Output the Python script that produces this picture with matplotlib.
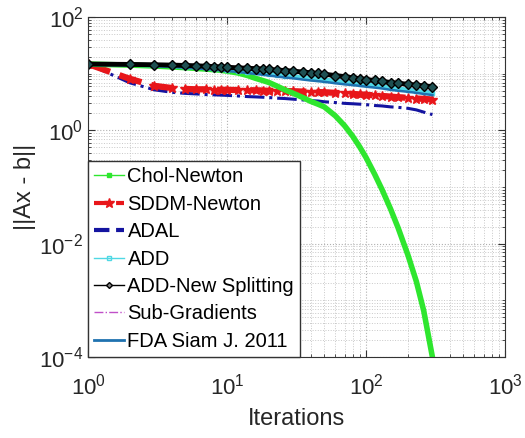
import matplotlib
matplotlib.use('Agg')
import matplotlib.pyplot as plt
from matplotlib.lines import Line2D
from matplotlib.ticker import LogLocator, NullFormatter

plt.rcParams['font.family'] = ['Liberation Sans', 'DejaVu Sans']
plt.rcParams['mathtext.default'] = 'regular'

iters = [1, 2, 3, 4, 5, 6, 7, 8, 9, 10, 12, 14, 16, 18, 20, 23, 26, 30, 35, 40,
         45, 50, 60, 70, 80, 90, 100, 115, 130, 150, 170, 200, 230, 260, 300]

chol_newton = [14.8, 14.2, 13.7, 13.2, 12.8, 12.4, 12.1, 11.8, 11.5, 11.1,
               10.3, 9.3, 8.3, 7.6, 7.0, 6.0, 5.2, 4.5, 3.8, 3.25,
               2.9, 2.6, 1.81, 1.21, 0.79, 0.51, 0.33, 0.17, 0.091, 0.041,
               0.019, 0.0063, 0.00215, 6.5e-4, 1.0e-4]
sddm_newton = [14.8, 8.1, 6.1, 5.6, 5.4, 5.3, 5.3, 5.25, 5.2, 5.2,
               5.15, 5.1, 5.1, 5.05, 5.0, 5.0, 4.95, 4.9, 4.85, 4.8,
               4.75, 4.7, 4.6, 4.5, 4.4, 4.3, 4.25, 4.15, 4.05, 3.95,
               3.85, 3.75, 3.65, 3.6, 3.5]
adal = [14.8, 6.9, 5.2, 4.7, 4.5, 4.4, 4.3, 4.25, 4.2, 4.15,
        4.05, 3.95, 3.9, 3.85, 3.8, 3.7, 3.65, 3.55, 3.45, 3.35,
        3.3, 3.2, 3.1, 3.0, 2.95, 2.9, 2.85, 2.75, 2.7, 2.6,
        2.55, 2.45, 2.3, 2.1, 1.9]
add = [14.8, 14.4, 14.0, 13.6, 13.2, 12.9, 12.6, 12.3, 12.0, 11.8,
       11.3, 10.9, 10.6, 10.3, 10.0, 9.6, 9.3, 9.0, 8.6, 8.3,
       8.1, 7.9, 7.5, 7.2, 6.9, 6.7, 6.5, 6.2, 6.0, 5.7,
       5.5, 5.2, 5.0, 4.8, 4.6]
add_new = [14.8, 14.6, 14.4, 14.2, 14.0, 13.8, 13.6, 13.4, 13.2, 13.0,
           12.7, 12.5, 12.3, 12.1, 11.9, 11.6, 11.4, 11.1, 10.7, 10.4,
           10.1, 9.8, 9.3, 8.9, 8.5, 8.2, 7.9, 7.6, 7.3, 7.0,
           6.8, 6.5, 6.3, 6.1, 5.9]
sub_grad = [14.8, 14.5, 14.1, 13.8, 13.5, 13.2, 12.9, 12.6, 12.4, 12.2,
            11.8, 11.4, 11.1, 10.8, 10.5, 10.1, 9.8, 9.5, 9.1, 8.8,
            8.5, 8.3, 7.9, 7.6, 7.3, 7.1, 6.9, 6.6, 6.3, 6.0,
            5.8, 5.5, 5.3, 5.1, 4.9]
fda = [14.8, 14.2, 13.7, 13.2, 12.8, 12.4, 12.1, 11.8, 11.5, 11.2,
       10.7, 10.3, 9.9, 9.6, 9.3, 8.9, 8.6, 8.3, 7.9, 7.6,
       7.4, 7.2, 6.8, 6.5, 6.3, 6.1, 5.9, 5.7, 5.5, 5.2,
       5.0, 4.8, 4.6, 4.4, 4.2]

labels = ['Chol-Newton', 'SDDM-Newton', 'ADAL', 'ADD', 'ADD-New Splitting',
          'Sub-Gradients', 'FDA Siam J. 2011']

c_green = '#2ee62e'
c_red = '#e8161a'
c_navy = '#1414a0'
c_cyan = '#4fd8e4'
c_mag = '#c050c8'
c_fda = '#1f72b0'

fig = plt.figure(figsize=(5.25, 4.38), dpi=100)
ax = fig.add_axes([0.168, 0.185, 0.794, 0.776])

ax.plot(iters, adal, '-.', color=c_navy, lw=2.2)
ax.plot(iters, sddm_newton, '--', color=c_red, lw=4.5, marker='*', ms=7)
ax.plot(iters, chol_newton, '-', color=c_green, lw=4)
ax.plot(iters, sub_grad, '-.', color=c_mag, lw=1.2)
ax.plot(iters, add, '-', color=c_cyan, lw=3, marker='s', ms=3.5)
ax.plot(iters, fda, '-', color=c_fda, lw=1.8)
ax.plot(iters, add_new, '-', color='black', lw=3.5, marker='D', ms=5.5,
        mfc='#1e5052', mec='black')

ax.set_xscale('log')
ax.set_yscale('log')
ax.set_xlim(1, 1000)
ax.set_ylim(1e-4, 1e2)
ax.set_yticks([1e-4, 1e-2, 1e0, 1e2])
ax.yaxis.set_minor_locator(LogLocator(base=10, subs=range(1, 10), numticks=100))
ax.yaxis.set_minor_formatter(NullFormatter())
ax.xaxis.set_minor_locator(LogLocator(base=10, subs=range(2, 10), numticks=100))
ax.xaxis.set_minor_formatter(NullFormatter())

ax.grid(True, which='major', ls=':', color='#b0b0b0', lw=0.8)
ax.grid(True, which='minor', ls=':', color='#c8c8c8', lw=0.7)
ax.tick_params(which='both', direction='in', top=True, right=True,
               labelsize=16, color='#333333', labelcolor='#262626')
ax.tick_params(axis='x', which='major', pad=12)
ax.tick_params(which='major', length=5)
ax.tick_params(which='minor', length=2.5)
for s in ax.spines.values():
    s.set_color('#333333')

ax.set_xlabel('Iterations', fontsize=17, color='#262626', labelpad=6)
ax.set_ylabel('||Ax - b||', fontsize=17, color='#262626', labelpad=2)

handles = [
    Line2D([], [], color=c_green, lw=1, marker='s', ms=3),
    Line2D([], [], color=c_red, lw=3, ls='--', marker='*', ms=7),
    Line2D([], [], color=c_navy, lw=3, ls='--'),
    Line2D([], [], color=c_cyan, lw=1, marker='s', ms=3, mfc='none'),
    Line2D([], [], color='black', lw=1, marker='D', ms=3, mfc='#888888'),
    Line2D([], [], color=c_mag, lw=1, ls='-.'),
    Line2D([], [], color=c_fda, lw=2),
]
leg = ax.legend(handles, labels, loc='lower left', fontsize=14.5,
                borderaxespad=0, fancybox=False, framealpha=1,
                handlelength=1.5, handletextpad=0.15, labelspacing=0.42,
                borderpad=0.3)
leg.get_frame().set_edgecolor('#333333')
leg.get_frame().set_linewidth(1)

plt.savefig('out.png', dpi=100)
